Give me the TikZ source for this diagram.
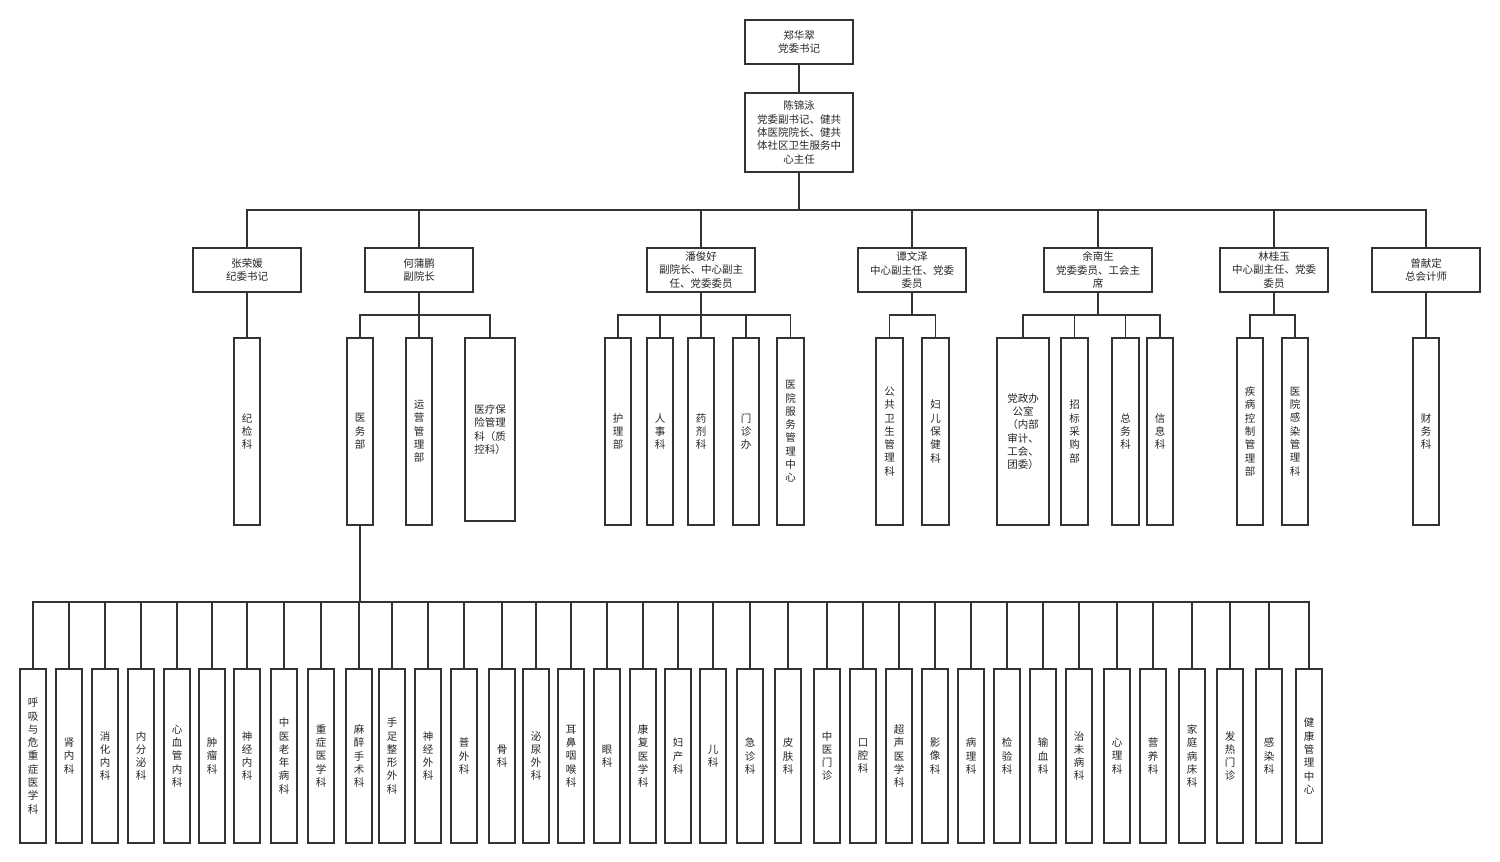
\documentclass[tikz,border=0pt]{standalone}
\usepackage{fontspec}
\setmainfont{Noto Sans CJK SC}
\ExplSyntaxOn
\cs_new_protected:Npn \vtext #1
 {
  \seq_clear:N \l_tmpa_seq
  \exp_args:No \tl_map_inline:nn {#1} { \seq_put_right:Nn \l_tmpa_seq {##1} }
  \seq_use:Nn \l_tmpa_seq { \\ }
 }
\ExplSyntaxOff
\tikzset{
 box/.style={draw=black!80, line width=1.1pt, fill=white, inner sep=0pt, outer sep=0pt,
   align=center, text=black!85, font=\fontsize{10.5}{13.3}\selectfont},
 ln/.style={draw=black!80, line width=1.1pt},
}
\newcommand\bx[6]{\node[box,minimum width={(#4)-(#2)},minimum height={(#5)-(#3)}] (#1) at ({((#2)+(#4))/2},{((#3)+(#5))/2}) {#6};}
\begin{document}
\begin{tikzpicture}[x=1pt,y=-1pt]
\fill[white] (0,0) rectangle (1500,862);
\useasboundingbox (0,0) rectangle (1500,862);
% top
\bx{zheng}{745}{20}{853}{64}{郑华翠\\党委书记}
\bx{chen}{745}{93}{853}{172}{陈锦泳\\党委副书记、健共\\体医院院长、健共\\体社区卫生服务中\\心主任}
\draw[ln] (zheng) -- (chen);
% level 2
\bx{zhang}{193}{248}{301}{292}{张荣媛\\纪委书记}
\bx{he}{365}{248}{473}{292}{何蒲鹏\\副院长}
\bx{pan}{647}{248}{755}{292}{潘俊好\\副院长、中心副主\\任、党委委员}
\bx{tan}{858}{248}{966}{292}{谭文泽\\中心副主任、党委\\委员}
\bx{yu}{1044}{248}{1152}{292}{余南生\\党委委员、工会主\\席}
\bx{lin}{1220}{248}{1328}{292}{林桂玉\\中心副主任、党委\\委员}
\bx{zeng}{1372}{248}{1480}{292}{曾献定\\总会计师}
\coordinate (busA) at (799,210);
\foreach \n in {zhang,he,pan,tan,yu,lin,zeng}
  \draw[ln] (chen.south) -- (busA) -| (\n.north);
% level 3
\bx{jijian}{234}{338}{260}{525}{\vtext{纪检科}}
\draw[ln] (zhang) -- (jijian);
\bx{yiwu}{347}{338}{373}{525}{\vtext{医务部}}
\bx{yunying}{406}{338}{432}{525}{\vtext{运营管理部}}
\bx{yibao}{465}{338}{515}{521}{医疗保\\险管理\\科（质\\控科）}
\coordinate (busHe) at (419,315);
\foreach \n in {yiwu,yunying,yibao}
  \draw[ln] (he.south) -- (busHe) -| (\n.north);
\bx{huli}{605}{338}{631}{525}{\vtext{护理部}}
\bx{renshi}{647}{338}{673}{525}{\vtext{人事科}}
\bx{yaoji}{688}{338}{714}{525}{\vtext{药剂科}}
\bx{menzhen}{733}{338}{759}{525}{\vtext{门诊办}}
\bx{fuwu}{777}{338}{804}{525}{\vtext{医院服务管理中心}}
\coordinate (busPan) at (701,315);
\foreach \n in {huli,renshi,yaoji,menzhen,fuwu}
  \draw[ln] (pan.south) -- (busPan) -| (\n.north);
\bx{gonggong}{876}{338}{903}{525}{\vtext{公共卫生管理科}}
\bx{fuer}{922}{338}{949}{525}{\vtext{妇儿保健科}}
\coordinate (busTan) at (912,315);
\foreach \n in {gonggong,fuer}
  \draw[ln] (tan.south) -- (busTan) -| (\n.north);
\bx{dangzheng}{997}{338}{1049}{525}{党政办\\公室\\（内部\\审计、\\工会、\\团委）}
\bx{zhaobiao}{1061}{338}{1088}{525}{\vtext{招标采购部}}
\bx{zongwu}{1112}{338}{1139}{525}{\vtext{总务科}}
\bx{xinxi}{1147}{338}{1173}{525}{\vtext{信息科}}
\coordinate (busYu) at (1098,315);
\foreach \n in {dangzheng,zhaobiao,zongwu,xinxi}
  \draw[ln] (yu.south) -- (busYu) -| (\n.north);
\bx{jibing}{1237}{338}{1263}{525}{\vtext{疾病控制管理部}}
\bx{ganran}{1282}{338}{1308}{525}{\vtext{医院感染管理科}}
\coordinate (busLin) at (1274,315);
\foreach \n in {jibing,ganran}
  \draw[ln] (lin.south) -- (busLin) -| (\n.north);
\bx{caiwu}{1413}{338}{1439}{525}{\vtext{财务科}}
\draw[ln] (zeng) -- (caiwu);
% bottom row
\coordinate (busB) at (360,602);
\foreach \x/\t [count=\i] in {33/呼吸与危重症医学科,69/肾内科,105/消化内科,141/内分泌科,177/心血管内科,
  212/肿瘤科,247/神经内科,284/中医老年病科,321/重症医学科,359/麻醉手术科,392/手足整形外科,
  428/神经外科,464/普外科,502/骨科,536/泌尿外科,571/耳鼻咽喉科,607/眼科,643/康复医学科,
  678/妇产科,713/儿科,750/急诊科,788/皮肤科,827/中医门诊,863/口腔科,899/超声医学科,
  935/影像科,971/病理科,1007/检验科,1043/输血科,1079/治未病科,1117/心理科,1153/营养科,
  1192/家庭病床科,1230/发热门诊,1269/感染科,1309/健康管理中心}
{
  \node[box,minimum width=26,minimum height=174] (b\i) at (\x,756) {\vtext{\t}};
  \draw[ln] (yiwu.south) -- (busB) -| (b\i.north);
}
\end{tikzpicture}
\end{document}
